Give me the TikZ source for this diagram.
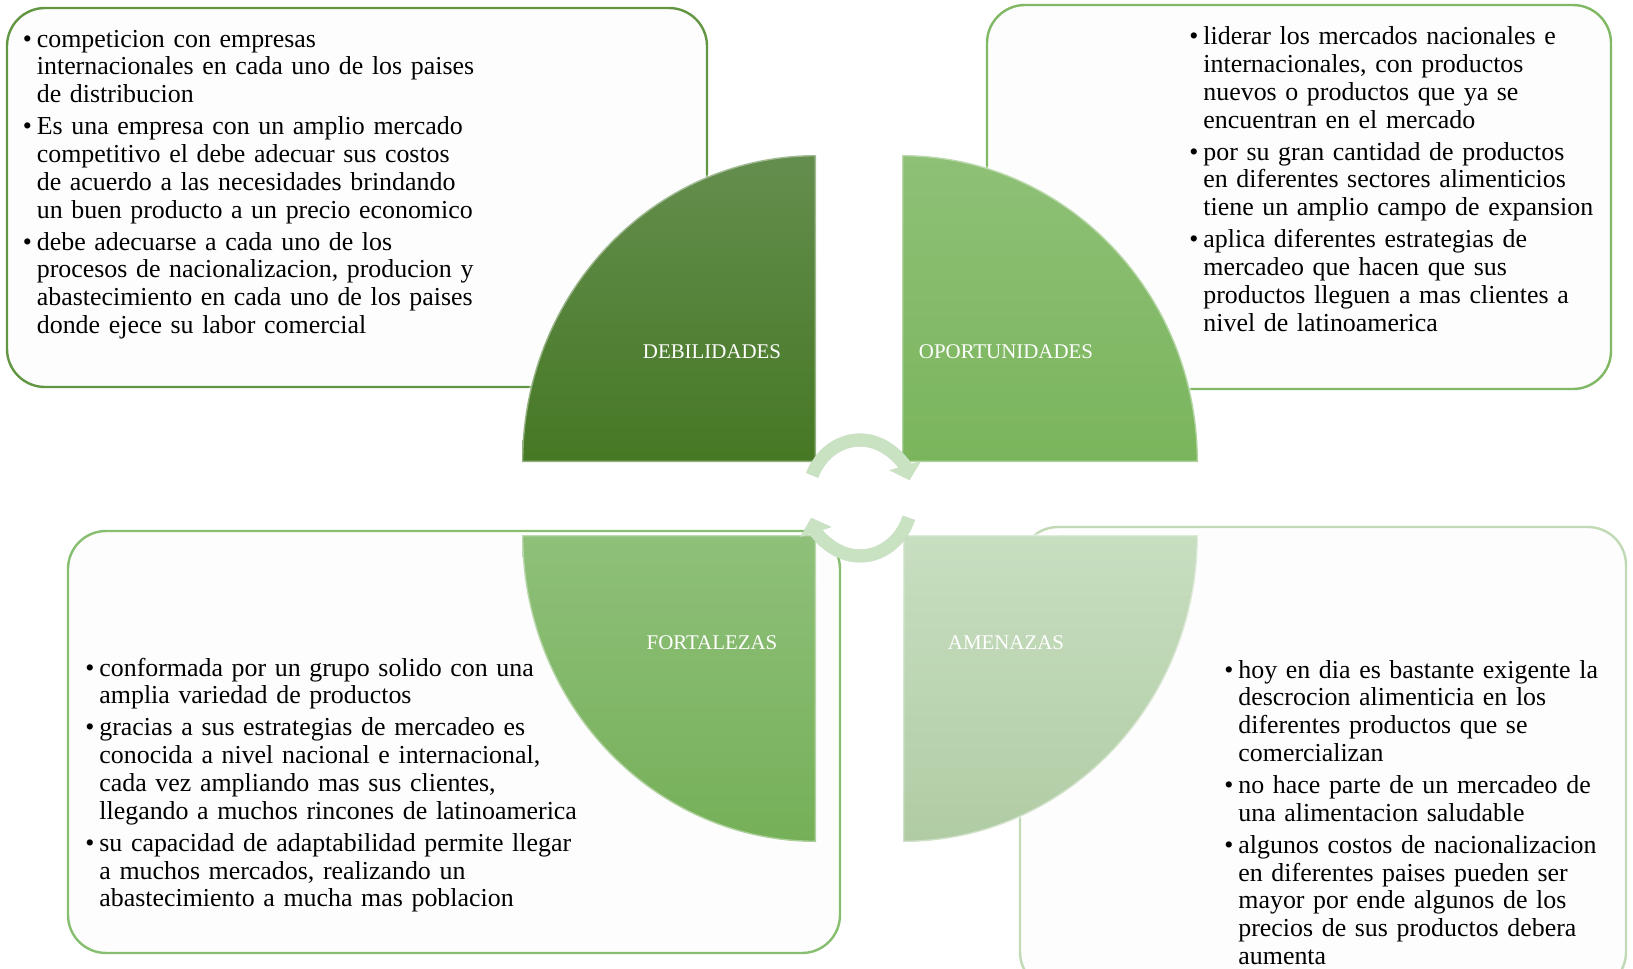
\documentclass[tikz,border=0pt]{standalone}
\usepackage{fontspec}
\setmainfont{Liberation Serif}
\usetikzlibrary{arrows.meta}

\definecolor{papel}{RGB}{253,253,253}
\definecolor{debiltop}{RGB}{100,142,78}
\definecolor{debil}{RGB}{70,120,36}
\definecolor{oporttop}{RGB}{142,192,118}
\definecolor{oport}{RGB}{122,181,92}
\definecolor{fortatop}{RGB}{143,192,122}
\definecolor{forta}{RGB}{117,176,88}
\definecolor{amenatop}{RGB}{200,222,192}
\definecolor{amena}{RGB}{176,204,164}
\definecolor{bordeD}{RGB}{98,150,66}
\definecolor{bordeO}{RGB}{128,184,100}
\definecolor{bordeF}{RGB}{135,190,112}
\definecolor{bordeA}{RGB}{192,218,182}
\definecolor{ciclo}{RGB}{200,226,194}

\newcommand{\punto}{\par\hangindent=7pt\hangafter=1\noindent\hbox to 7pt{\textbullet\hss}\strut}
\newcommand{\listafont}{\fontsize{12.95}{13.93}\selectfont\setlength{\parskip}{2pt}}

\begin{document}
\begin{tikzpicture}[x=0.5pt, y=-0.5pt,
  panel/.style={draw, line width=1.2pt, rounded corners=19pt, fill=papel, inner sep=0pt},
  quad/.style={draw=white, draw opacity=0.4, line width=1.4pt},
  lista/.style={anchor=north west, inner sep=0pt, text width=262pt, align=left, font=\listafont},
  etiqueta/.style={text=white, inner sep=0pt, font=\fontsize{10.45}{12}\selectfont},
  ciclo/.style={line width=6.5pt, draw=ciclo, -{Triangle[length=7.5pt,width=16pt]}},
  sombra/.style={line width=6.5pt, draw=black, opacity=0.15, -{Triangle[length=7.5pt,width=16pt]}}
]
\useasboundingbox (0,0) rectangle (1633,969);

% cajas de texto
\node[panel, draw=bordeD, minimum width=350pt, minimum height=189.5pt] (cajaD) at (357,197.5) {};
\node[panel, draw=bordeO, minimum width=312pt, minimum height=192pt] (cajaO) at (1299,197) {};
\node[panel, draw=bordeF, minimum width=386pt, minimum height=211pt] (cajaF) at (454,742) {};
\node[panel, draw=bordeA, minimum width=303pt, minimum height=231.5pt] (cajaA) at (1323,758.5) {};

% cuadrantes
\path[quad, top color=debiltop, bottom color=debil]
  (522,462) arc[start angle=180, end angle=90, x radius=147pt, y radius=153.5pt] -- (816,462) -- cycle;
\path[quad, top color=oporttop, bottom color=oport]
  (902,155) arc[start angle=90, end angle=0, x radius=148pt, y radius=153.5pt] -- (902,462) -- cycle;
\path[quad, top color=fortatop, bottom color=forta]
  (522,535) arc[start angle=180, end angle=270, x radius=147pt, y radius=153.5pt] -- (816,535) -- cycle;
\path[quad, top color=amenatop, bottom color=amena]
  (1198,535) arc[start angle=0, end angle=-90, x radius=147.5pt, y radius=153.5pt] -- (903,535) -- cycle;

% flechas del ciclo
\coordinate (eje) at (860,498);
\begin{scope}[xshift=1pt, yshift=-1.5pt]
  \draw[sombra] (eje) ++(157:26pt and 29pt) arc[start angle=157, end angle=18, x radius=26pt, y radius=29pt];
  \draw[sombra] (eje) ++(-20:26pt and 29pt) arc[start angle=-20, end angle=-160, x radius=26pt, y radius=29pt];
\end{scope}
\draw[ciclo] (eje) ++(157:26pt and 29pt) arc[start angle=157, end angle=18, x radius=26pt, y radius=29pt];
\draw[ciclo] (eje) ++(-20:26pt and 29pt) arc[start angle=-20, end angle=-160, x radius=26pt, y radius=29pt];

% etiquetas
\node[etiqueta] (debil) at (712,352) {DEBILIDADES};
\node[etiqueta] (oport) at (1006,352) {OPORTUNIDADES};
\node[etiqueta] (forta) at (712,643) {FORTALEZAS};
\node[etiqueta] (amena) at (1006,643) {AMENAZAS};

% listas
\node[lista] (listaD) at (22.5,14.8) {%
\punto competicion con empresas\newline internacionales en cada uno de los paises\newline de distribucion
\punto Es una empresa con un amplio mercado\newline competitivo el debe adecuar sus costos\newline de acuerdo a las necesidades brindando\newline un buen producto a un precio economico
\punto debe adecuarse a cada uno de los\newline procesos de nacionalizacion, producion y\newline abastecimiento en cada uno de los paises\newline donde ejece su labor comercial\par};

\node[lista] (listaO) at (1189,12.4) {%
\punto liderar los mercados nacionales e\newline internacionales, con productos\newline nuevos o productos que ya se\newline encuentran en el mercado
\punto por su gran cantidad de productos\newline en diferentes sectores alimenticios\newline tiene un amplio campo de expansion
\punto aplica diferentes estrategias de\newline mercadeo que hacen que sus\newline productos lleguen a mas clientes a\newline nivel de latinoamerica\par};

\node[lista] (listaF) at (85,643.8) {%
\punto conformada por un grupo solido con una\newline amplia variedad de productos
\punto gracias a sus estrategias de mercadeo es\newline conocida a nivel nacional e internacional,\newline cada vez ampliando mas sus clientes,\newline llegando a muchos rincones de latinoamerica
\punto su capacidad de adaptabilidad permite llegar\newline a muchos mercados, realizando un\newline abastecimiento a mucha mas poblacion\par};

\node[lista] (listaA) at (1224,645.8) {%
\punto hoy en dia es bastante exigente la\newline descrocion alimenticia en los\newline diferentes productos que se\newline comercializan
\punto no hace parte de un mercadeo de\newline una alimentacion saludable
\punto algunos costos de nacionalizacion\newline en diferentes paises pueden ser\newline mayor por ende algunos de los\newline precios de sus productos debera\newline aumenta\par};
\end{tikzpicture}
\end{document}
